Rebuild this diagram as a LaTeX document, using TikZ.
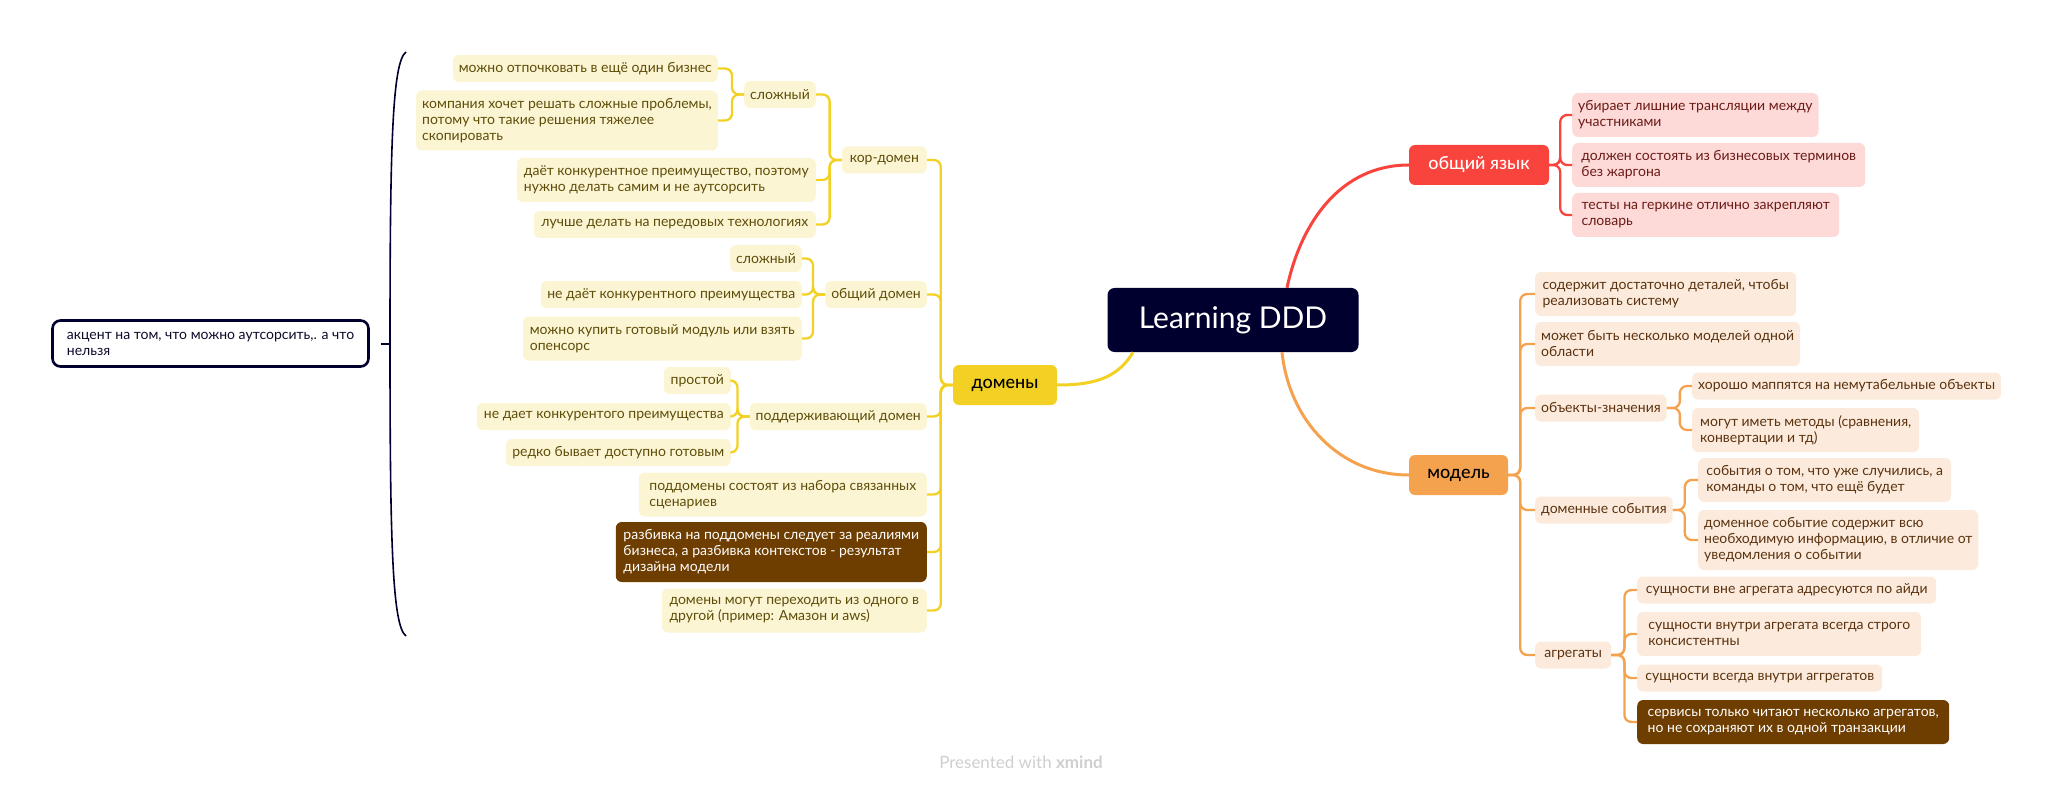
\documentclass[tikz,border=0pt]{standalone}
\usepackage{fontspec}
\setmainfont{Lato}
\IfFontExistsTF{Lato Medium}{\newfontfamily\topicfont{Lato Medium}}{\newfontfamily\topicfont{Lato}}
\usepackage{tikz}
\usetikzlibrary{calc}
\definecolor{navy}{HTML}{00002E}
\definecolor{navytext}{HTML}{0B0B2B}
\definecolor{gold}{HTML}{F2D124}
\definecolor{goldlight}{HTML}{FCF5D4}
\definecolor{goldtext}{HTML}{5E4D08}
\definecolor{tomato}{HTML}{F9443E}
\definecolor{tomatolight}{HTML}{FDDAD8}
\definecolor{tomatotext}{HTML}{6B1A16}
\definecolor{apricot}{HTML}{F5A24F}
\definecolor{apricotlight}{HTML}{FCEBDC}
\definecolor{apricottext}{HTML}{5A320F}
\definecolor{bark}{HTML}{6E3D00}
\definecolor{credit}{HTML}{CFCFCF}

\begin{document}
\begin{tikzpicture}[x=1pt,y=1pt,
    box/.style={rounded corners=6pt, inner xsep=6pt, inner ysep=2pt, align=left, font=\fontsize{14}{16}\selectfont},
    one/.style={minimum height=27pt},
    two/.style={minimum height=44pt},
    three/.style={minimum height=60pt},
    yleaf/.style={box, fill=goldlight, text=goldtext, anchor=east},
    rleaf/.style={box, fill=tomatolight, text=tomatotext, anchor=west},
    oleaf/.style={box, fill=apricotlight, text=apricottext, anchor=west},
    dark/.style={fill=bark, text=white},
    topic/.style={rounded corners=6pt, minimum height=40pt, font=\topicfont\fontsize{18}{20}\selectfont},
    ylink/.style={draw=gold, line width=2.3pt, rounded corners=7pt},
    rlink/.style={draw=tomato, line width=2.3pt, rounded corners=7pt},
    olink/.style={draw=apricot, line width=2.3pt, rounded corners=7pt},
    trunk/.style={line width=3pt}
    ]
    \useasboundingbox (0,0) rectangle (2050,-794);

    \node[fill=navy, text=white, rounded corners=7pt, minimum width=251pt, minimum height=64pt, font=\fontsize{30}{32}\selectfont] (root) at (1233,-320) {Learning DDD};

    \node[topic, fill=gold, minimum width=104pt] (dom) at (1005,-385) {домены};
    \node[topic, fill=tomato, text=white, minimum width=140pt] (lang) at (1479,-165) {общий язык};
    \node[topic, fill=apricot, minimum width=99pt] (mod) at (1458.5,-475) {модель};

    \draw[trunk, gold] (dom.east) to[out=0, in=-120] ($(root.south)+(-100,0)$);
    \draw[trunk, tomato] ($(root.north)+(54,0)$) to[out=78, in=180] (lang.west);
    \draw[trunk, apricot] ($(root.south)+(49,0)$) to[out=-84, in=180] (mod.west);

    \node[yleaf, one, minimum width=85pt] (kor) at (927,-160) {кор-домен};
    \node[yleaf, one, minimum width=71pt] (kcx) at (816,-94.5) {сложный};
    \node[yleaf, one, minimum width=261pt] (kcx1) at (718,-68.5) {можно отпочковать в ещё один бизнес};
    \node[yleaf, three, minimum width=301pt] (kcx2) at (718,-120.5) {компания хочет решать сложные проблемы,\\потому что такие решения тяжелее\\скопировать};
    \node[yleaf, two, minimum width=299pt] (kadv) at (816,-180) {даёт конкурентное преимущество, поэтому\\нужно делать самим и не аутсорсить};
    \node[yleaf, one, minimum width=282pt] (ktech) at (816,-224.5) {лучше делать на передовых технологиях};

    \node[yleaf, one, minimum width=98pt] (gen) at (927,-294.5) {общий домен};
    \node[yleaf, one, minimum width=70pt] (gcx) at (802,-258.5) {сложный};
    \node[yleaf, one, minimum width=261pt] (gadv) at (802,-294.5) {не даёт конкурентного преимущества};
    \node[yleaf, two, minimum width=279pt] (gbuy) at (802,-338.5) {можно купить готовый модуль или взять\\опенсорс};

    \node[yleaf, one, minimum width=170pt] (sup) at (927,-416.5) {поддерживающий домен};
    \node[yleaf, one, minimum width=67pt] (ssim) at (731,-380.5) {простой};
    \node[yleaf, one, minimum width=254pt] (sadv) at (731,-416.5) {не дает конкурентого преимущества};
    \node[yleaf, one, minimum width=225pt] (sready) at (731,-452.5) {редко бывает доступно готовым};

    \node[yleaf, two, minimum width=288pt] (sub) at (927,-494.5) {поддомены состоят из набора связанных\\сценариев};
    \node[yleaf, dark, three, minimum width=311pt] (split) at (927,-552) {разбивка на поддомены следует за реалиями\\бизнеса, а разбивка контекстов - результат\\дизайна модели};
    \node[yleaf, two, minimum width=265pt] (move) at (927,-610.5) {домены могут переходить из одного в\\другой (пример: Амазон и aws)};

    \node[rleaf, two, minimum width=209pt] (lang1) at (1572,-115) {убирает лишние трансляции между\\участниками};
    \node[rleaf, two, minimum width=293pt] (lang2) at (1572,-165) {должен состоять из бизнесовых терминов\\без жаргона};
    \node[rleaf, two, minimum width=267pt] (lang3) at (1572,-215) {тесты на геркине отлично закрепляют\\словарь};

    \node[oleaf, two, minimum width=261pt] (detail) at (1535,-294) {содержит достаточно деталей, чтобы\\реализовать систему};
    \node[oleaf, two, minimum width=263pt] (many) at (1535,-344) {может быть несколько моделей одной\\области};
    \node[oleaf, one, minimum width=130pt] (val) at (1535,-408) {объекты-значения};
    \node[oleaf, one, minimum width=307pt] (val1) at (1692,-386) {хорошо маппятся на немутабельные объекты};
    \node[oleaf, two, minimum width=227pt] (val2) at (1692,-430) {могут иметь методы (сравнения,\\конвертации и тд)};
    \node[oleaf, one, minimum width=137pt] (evt) at (1535,-510) {доменные события};
    \node[oleaf, two, minimum width=253pt] (evt1) at (1698,-480) {события о том, что уже случились, а\\команды о том, что ещё будет};
    \node[oleaf, three, minimum width=278pt] (evt2) at (1698,-540) {доменное событие содержит всю\\необходимую информацию, в отличие от\\уведомления о событии};
    \node[oleaf, one, minimum width=76pt] (agg) at (1535,-655) {агрегаты};
    \node[oleaf, one, minimum width=299pt] (agg1) at (1637,-590) {сущности вне агрегата адресуются по айди};
    \node[oleaf, two, minimum width=284pt] (agg2) at (1637,-634) {сущности внутри агрегата всегда строго\\консистентны};
    \node[oleaf, one, minimum width=245pt] (agg3) at (1637,-678) {сущности всегда внутри аггрегатов};
    \node[oleaf, dark, two, minimum width=312pt] (agg4) at (1637,-722) {сервисы только читают несколько агрегатов,\\но не сохраняют их в одной транзакции};

    \foreach \c in {kor,gen,sup,sub,split,move}
        \draw[ylink] (dom.west) -- ++(-12,0) |- (\c.east);
    \foreach \c in {kcx,kadv,ktech}
        \draw[ylink] (kor.west) -- ++(-12,0) |- (\c.east);
    \foreach \c in {kcx1,kcx2}
        \draw[ylink] (kcx.west) -- ++(-12,0) |- (\c.east);
    \foreach \c in {gcx,gadv,gbuy}
        \draw[ylink] (gen.west) -- ++(-12,0) |- (\c.east);
    \foreach \c in {ssim,sadv,sready}
        \draw[ylink] (sup.west) -- ++(-12,0) |- (\c.east);

    \foreach \c in {lang1,lang2,lang3}
        \draw[rlink] (lang.east) -- ++(11,0) |- (\c.west);
    \foreach \c in {detail,many,val,evt,agg}
        \draw[olink] (mod.east) -- ++(12,0) |- (\c.west);
    \foreach \c in {val1,val2}
        \draw[olink] (val.east) -- ++(13,0) |- (\c.west);
    \foreach \c in {evt1,evt2}
        \draw[olink] (evt.east) -- ++(12,0) |- (\c.west);
    \foreach \c in {agg1,agg2,agg3,agg4}
        \draw[olink] (agg.east) -- ++(13,0) |- (\c.west);

    \node[draw=navy, line width=2.6pt, fill=white, rounded corners=8pt, minimum width=316pt, minimum height=46pt, align=left, text=navytext, font=\fontsize{14}{16}\selectfont] (note) at (210.5,-343.5) {акцент на том, что можно аутсорсить,. а что\\нельзя};
    \coordinate (braceTop) at (406,-52);
    \coordinate (braceMid) at (390,-343.5);
    \coordinate (braceBot) at (406,-636);
    \draw[navy, line width=1.6pt] (braceTop) .. controls (392,-62) and (390,-150) .. (braceMid) .. controls (390,-537) and (392,-626) .. (braceBot);
    \draw[navy, line width=2pt] ($(note.east)+(11,0)$) -- (braceMid);

    \node[text=credit, font=\fontsize{17}{19}\selectfont] (credit) at (1021,-762) {Presented with \textbf{xmind}};
\end{tikzpicture}
\end{document}
